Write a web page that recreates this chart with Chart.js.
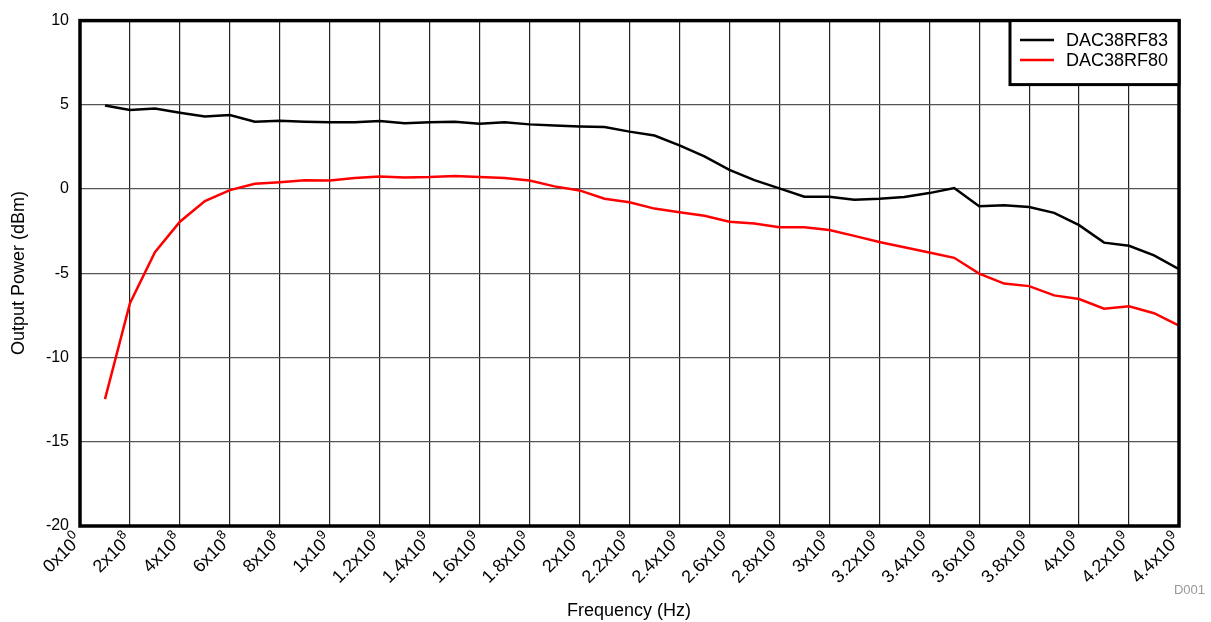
<!DOCTYPE html>
<html>
<head>
<meta charset="utf-8">
<script src="https://cdn.jsdelivr.net/npm/chart.js@4/dist/chart.umd.min.js"></script>
<style>
  html, body { margin: 0; padding: 0; background: #fff; }
  #wrap { width: 1211px; height: 622px; }
</style>
</head>
<body>
<div id="wrap"><canvas id="powerChart" width="1211" height="622"></canvas></div>
<script>
// frequency points (Hz)
var freqHz = [1e8, 2e8, 3e8, 4e8, 5e8, 6e8, 7e8, 8e8, 9e8, 1.0e9, 1.1e9,
  1.2e9, 1.3e9, 1.4e9, 1.5e9, 1.6e9, 1.7e9, 1.8e9, 1.9e9, 2.0e9, 2.1e9, 2.2e9,
  2.3e9, 2.4e9, 2.5e9, 2.6e9, 2.7e9, 2.8e9, 2.9e9, 3.0e9, 3.1e9, 3.2e9, 3.3e9,
  3.4e9, 3.5e9, 3.6e9, 3.7e9, 3.8e9, 3.9e9, 4.0e9, 4.1e9, 4.2e9, 4.3e9, 4.4e9];

// output power (dBm)
var dac83 = [4.96, 4.7, 4.78, 4.53, 4.31, 4.39, 4.0, 4.06, 4.0, 3.96, 3.96,
  4.04, 3.9, 3.96, 4.0, 3.88, 3.96, 3.84, 3.78, 3.72, 3.69, 3.41,
  3.18, 2.59, 1.94, 1.14, 0.53, 0.04, -0.45, -0.45, -0.63, -0.57, -0.47,
  -0.24, 0.06, -1.02, -0.96, -1.06, -1.41, -2.14, -3.18, -3.37, -3.94, -4.75];
var dac80 = [-12.47, -6.78, -3.75, -1.94, -0.71, -0.06, 0.31, 0.41, 0.53, 0.51, 0.65,
  0.75, 0.69, 0.71, 0.78, 0.71, 0.65, 0.51, 0.16, -0.08, -0.57, -0.78,
  -1.16, -1.37, -1.59, -1.94, -2.04, -2.27, -2.27, -2.43, -2.78, -3.14, -3.45,
  -3.76, -4.08, -5.02, -5.61, -5.76, -6.31, -6.53, -7.1, -6.96, -7.37, -8.1];

var seriesNames = ['DAC38RF83', 'DAC38RF80'];
var seriesColors = ['#000000', '#ff0000'];

// x tick labels: mantissa x 10^exp
var xTickBase = ['0', '2', '4', '6', '8', '1', '1.2', '1.4', '1.6', '1.8', '2', '2.2',
  '2.4', '2.6', '2.8', '3', '3.2', '3.4', '3.6', '3.8', '4', '4.2', '4.4'];
var xTickExp = ['0', '8', '8', '8', '8', '9', '9', '9', '9', '9', '9', '9',
  '9', '9', '9', '9', '9', '9', '9', '9', '9', '9', '9'];

var FONT = "'Liberation Sans', Arial, sans-serif";

function toPoints(ys) {
  var pts = [];
  for (var i = 0; i < ys.length; i++) pts.push({ x: freqHz[i], y: ys[i] });
  return pts;
}

var decorPlugin = {
  id: 'decor',
  afterDraw: function(chart) {
    var ctx = chart.ctx;
    var a = chart.chartArea;
    var xs = chart.scales.x;

    // frame
    ctx.save();
    ctx.strokeStyle = '#000';
    ctx.lineWidth = 3.5;
    ctx.strokeRect(a.left, a.top, a.right - a.left, a.bottom - a.top);

    // x tick labels with superscript exponent
    ctx.fillStyle = '#000';
    for (var i = 0; i < xs.ticks.length; i++) {
      var px = xs.getPixelForValue(xs.ticks[i].value);
      ctx.save();
      ctx.translate(px - 5, a.bottom + 7);
      ctx.rotate(-Math.PI / 4);
      ctx.textAlign = 'right';
      ctx.textBaseline = 'alphabetic';
      ctx.font = '13px ' + FONT;
      var ew = ctx.measureText(xTickExp[i]).width;
      ctx.fillText(xTickExp[i], 0, 3);
      ctx.font = '18px ' + FONT;
      ctx.fillText(xTickBase[i] + 'x10', -ew, 11);
      ctx.restore();
    }

    // axis titles
    ctx.textAlign = 'center';
    ctx.textBaseline = 'middle';
    ctx.font = '18px ' + FONT;
    ctx.fillText('Frequency (Hz)', 629, 611);
    ctx.save();
    ctx.translate(19, 273);
    ctx.rotate(-Math.PI / 2);
    ctx.font = '18px ' + FONT;
    ctx.fillText('Output Power (dBm)', 0, 0);
    ctx.restore();

    // figure id
    ctx.textAlign = 'right';
    ctx.font = '13px ' + FONT;
    ctx.fillStyle = '#999';
    ctx.fillText('D001', 1205, 590);

    // legend box
    var bx = 1010, by = a.top, bw = a.right - 1010, bh = 64;
    ctx.fillStyle = '#fff';
    ctx.fillRect(bx, by, bw, bh);
    ctx.strokeStyle = '#000';
    ctx.lineWidth = 3;
    ctx.strokeRect(bx, by, bw, bh);
    ctx.textAlign = 'left';
    ctx.font = '18px ' + FONT;
    for (var k = 0; k < seriesNames.length; k++) {
      var ly = 40 + k * 20;
      ctx.strokeStyle = seriesColors[k];
      ctx.lineWidth = 2.5;
      ctx.beginPath();
      ctx.moveTo(1020, ly);
      ctx.lineTo(1054, ly);
      ctx.stroke();
      ctx.fillStyle = '#000';
      ctx.fillText(seriesNames[k], 1066, ly + 1);
    }
    ctx.restore();
  }
};

var ctx = document.getElementById('powerChart').getContext('2d');
var powerChart = new Chart(ctx, {
  type: 'line',
  data: {
    datasets: [{
      label: seriesNames[0],
      data: toPoints(dac83),
      borderColor: seriesColors[0],
      borderWidth: 2.5,
      pointRadius: 0,
      tension: 0
    }, {
      label: seriesNames[1],
      data: toPoints(dac80),
      borderColor: seriesColors[1],
      borderWidth: 2.5,
      pointRadius: 0,
      tension: 0
    }]
  },
  options: {
    responsive: false,
    animation: false,
    layout: { padding: { left: 0, right: 32, top: 18, bottom: 0 } },
    plugins: {
      legend: { display: false },
      tooltip: { enabled: false }
    },
    scales: {
      x: {
        type: 'linear',
        min: 0,
        max: 4.4e9,
        ticks: { stepSize: 2e8, display: false },
        grid: { color: '#222', lineWidth: 1.2, drawTicks: false },
        border: { display: false },
        afterFit: function(scale) { scale.height = 96; }
      },
      y: {
        min: -20,
        max: 10,
        ticks: {
          stepSize: 5,
          padding: 11,
          color: '#000',
          font: { family: FONT, size: 16 }
        },
        grid: { color: '#555', lineWidth: 1.2, drawTicks: false },
        border: { display: false },
        afterFit: function(scale) { scale.width = 80; }
      }
    }
  },
  plugins: [decorPlugin]
});
</script>
</body>
</html>
